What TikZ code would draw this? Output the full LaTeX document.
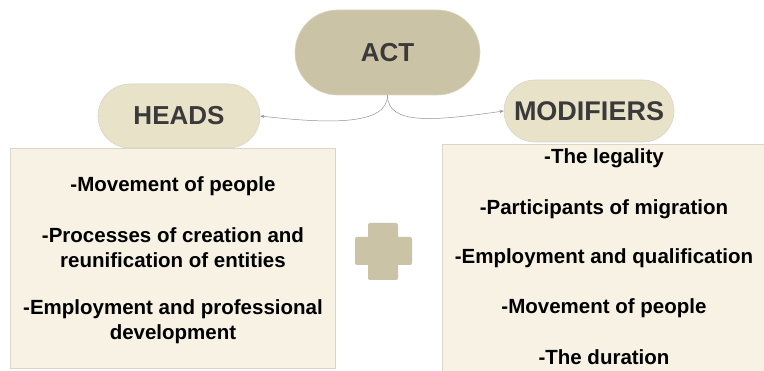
\documentclass[tikz,border=0pt]{standalone}
\usepackage{fontspec}
\setmainfont{Liberation Sans}
\usetikzlibrary{shapes.misc,arrows.meta}
\definecolor{actfill}{HTML}{CBC3A5}
\definecolor{pillfill}{HTML}{E8E2C8}
\definecolor{boxfill}{HTML}{F7F2E3}
\definecolor{boxline}{HTML}{DAD5C6}
\definecolor{pilltext}{HTML}{3A3A3A}
\begin{document}
\begin{tikzpicture}[x=1pt,y=-1pt,
  pill/.style={rounded rectangle, draw=boxline, line width=0.6pt, text=pilltext, font=\bfseries\fontsize{26}{30}\selectfont, inner sep=0pt},
  listbox/.style={draw=boxline, fill=boxfill, line width=0.8pt},
  item/.style={font=\bfseries\fontsize{20.5}{25}\selectfont, align=center, text=black},
  conn/.style={draw=gray!85, line width=0.5pt, -{Stealth[length=4pt,width=3pt]}}
]
\useasboundingbox (0,0) rectangle (764,371);
\fill[white] (0,0) rectangle (764,371);
% boxes
\node[listbox, minimum width=325pt, minimum height=220pt, anchor=north west] (lbox) at (10,148) {};
\node[listbox, minimum width=322pt, minimum height=227pt, anchor=north west] (rbox) at (442,144) {};
% pills
\node[pill, fill=actfill, minimum width=185pt, minimum height=85pt] (act) at (387.5,52.5) {ACT};
\node[pill, fill=pillfill, minimum width=162pt, minimum height=64pt] (heads) at (179,116) {HEADS};
\node[pill, fill=pillfill, minimum width=170pt, minimum height=62pt, font=\bfseries\fontsize{27}{30}\selectfont] (mods) at (589,111) {MODIFIERS};
% connectors
\draw[conn] (act.south) .. controls ++(0,30) and ++(70,8) .. (heads.east);
\draw[conn] (act.south) .. controls ++(0,30) and ++(-70,10) .. (mods.west);
% left texts
\node[item] (l1) at (173,186) {-Movement of people};
\node[item] (l2) at (173,248) {-Processes of creation and\\reunification of entities};
\node[item] (l3) at (173,322) {-Employment and professional\\development};
% right texts
\node[item] (r1) at (604,158) {-The legality};
\node[item] (r2) at (604,209) {-Participants of migration};
\node[item] (r3) at (604,258) {-Employment and qualification};
\node[item] (r4) at (604,308) {-Movement of people};
\node[item] (r5) at (604,357) {-The duration};
% plus sign
\fill[actfill, rounded corners=2pt] (368,223) rectangle (398,280);
\fill[actfill, rounded corners=2pt] (355,237) rectangle (412,265);
\end{tikzpicture}
\end{document}
